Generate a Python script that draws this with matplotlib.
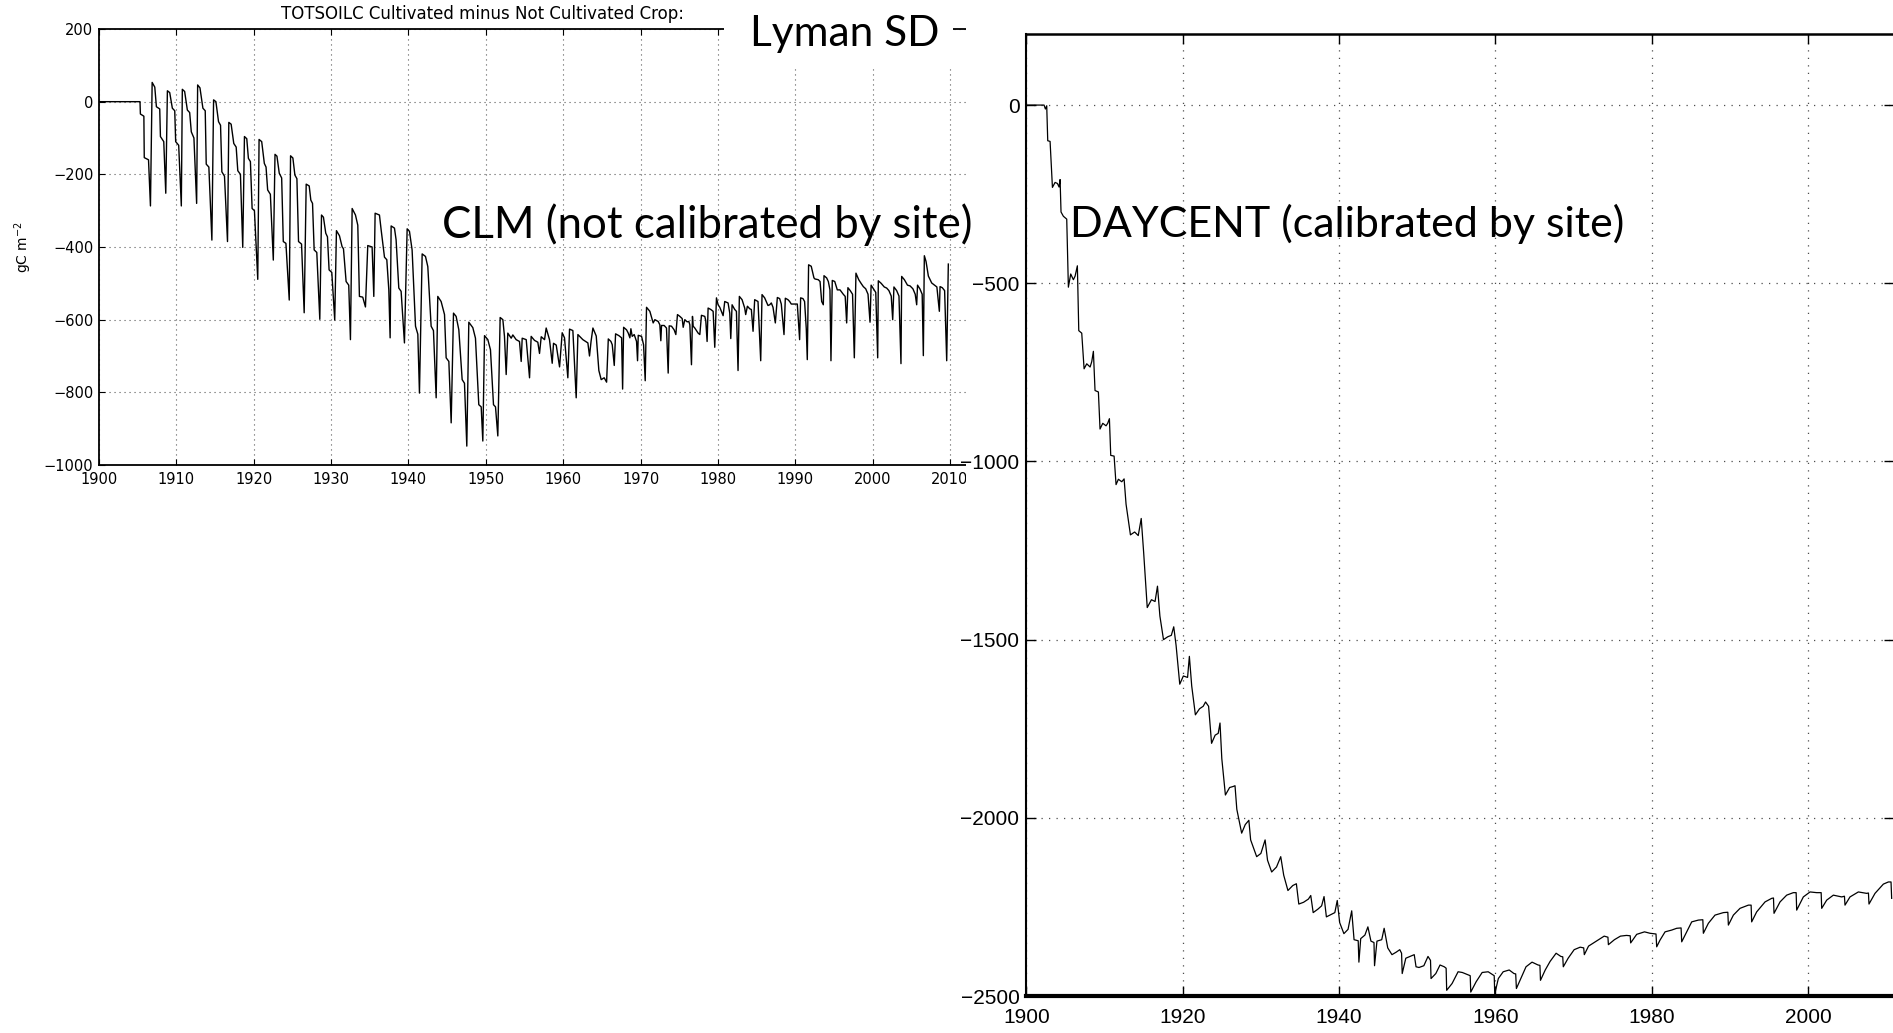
import matplotlib
matplotlib.use('Agg')
import matplotlib.pyplot as plt
from matplotlib.patches import Rectangle

W, H = 1893, 1033

# CLM, cultivated minus not cultivated (gC m-2)
clm_year = [1900.0, 1905.3, 1905.35, 1905.8, 1905.85, 1906.4, 1906.65, 1906.87,
            1907.21, 1907.42, 1907.85, 1907.94, 1908.37, 1908.63, 1908.84,
            1909.14, 1909.48, 1909.79, 1909.91, 1910.3, 1910.64, 1910.77,
            1911.07, 1911.42, 1911.72, 1911.93, 1912.27, 1912.62, 1912.75,
            1913.05, 1913.43, 1913.73, 1913.86, 1914.2, 1914.59, 1914.81,
            1915.11, 1915.45, 1915.71, 1915.88, 1916.22, 1916.61, 1916.78,
            1917.08, 1917.42, 1917.73, 1917.94, 1918.28, 1918.58, 1918.8,
            1919.1, 1919.31, 1919.57, 1919.79, 1920.09, 1920.52, 1920.69,
            1921.03, 1921.37, 1921.59, 1921.8, 1922.15, 1922.53, 1922.75,
            1923.0, 1923.3, 1923.61, 1923.82, 1924.16, 1924.59, 1924.76,
            1925.06, 1925.32, 1925.58, 1925.79, 1926.18, 1926.52, 1926.78,
            1927.17, 1927.38, 1927.6, 1927.81, 1928.15, 1928.54, 1928.76,
            1929.01, 1929.31, 1929.53, 1929.74, 1930.09, 1930.47, 1930.69,
            1931.08, 1931.42, 1931.6, 1931.94, 1932.28, 1932.5, 1932.72,
            1933.15, 1933.45, 1933.66, 1934.09, 1934.44, 1934.74, 1935.3, 1935.52, 1935.69,
            1936.25, 1936.47, 1936.9, 1937.2, 1937.46, 1937.63, 1937.76,
            1938.19, 1938.4, 1938.75, 1939.05, 1939.48, 1939.83,
            1940.13, 1940.47, 1940.91, 1941.21, 1941.42, 1941.77,
            1942.2, 1942.5, 1942.93, 1943.23, 1943.58, 1943.79,
            1944.22, 1944.66, 1944.87, 1945.22, 1945.52, 1945.82,
            1946.16, 1946.51, 1946.94, 1947.24, 1947.54, 1947.8,
            1948.32, 1948.66, 1949.09, 1949.4, 1949.61, 1949.83,
            1950.26, 1950.6, 1950.99, 1951.25, 1951.55, 1951.85,
            1952.2, 1952.41, 1952.63, 1952.84,
            1953.28, 1953.49, 1953.92, 1954.35, 1954.57, 1954.7, 1955.22, 1955.65, 1955.86,
            1956.29, 1956.72, 1956.94, 1957.16, 1957.59, 1957.8, 1958.23, 1958.58, 1958.75,
            1959.1, 1959.53, 1959.87, 1960.17, 1960.6, 1960.82, 1961.25, 1961.68, 1961.9,
            1962.54, 1963.19, 1963.4, 1963.6, 1963.84, 1964.27, 1964.61, 1964.91, 1965.3,
            1965.61, 1965.83, 1966.17, 1966.34, 1966.6, 1966.77, 1967.2, 1967.55, 1967.68,
            1967.81, 1968.19, 1968.41, 1968.62, 1968.75, 1968.92, 1969.18, 1969.48, 1969.61,
            1969.7, 1970.13, 1970.39, 1970.6, 1970.77, 1971.2, 1971.51, 1971.63, 1971.85,
            1972.28, 1972.49, 1972.62, 1972.71, 1973.05, 1973.35, 1973.57, 1973.7, 1974.0,
            1974.34, 1974.56, 1974.77, 1975.08, 1975.38, 1975.51, 1975.72, 1976.02, 1976.24,
            1976.37, 1976.58, 1976.71, 1976.8, 1977.01, 1977.44, 1977.66, 1977.87, 1978.3,
            1978.43, 1978.6, 1978.73, 1979.08, 1979.38, 1979.59, 1979.81, 1980.02, 1980.24,
            1980.45, 1980.67, 1980.88, 1981.31, 1981.53, 1981.66, 1981.83, 1982.17, 1982.39,
            1982.6, 1982.77, 1983.12, 1983.46, 1983.59, 1983.81, 1984.11, 1984.32, 1984.54,
            1984.75, 1985.18, 1985.53, 1985.7, 1986.04, 1986.47, 1986.69, 1986.9, 1987.12,
            1987.42, 1987.68, 1987.98, 1988.19, 1988.54, 1988.71, 1989.05, 1989.27, 1989.48,
            1989.91, 1990.26, 1990.56, 1990.69, 1990.99, 1991.2, 1991.42, 1991.55, 1991.72,
            1992.06, 1992.41, 1992.54, 1992.97, 1993.2, 1993.41, 1993.62, 1993.71, 1994.05,
            1994.27, 1994.48, 1994.61, 1994.78, 1995.1, 1995.43, 1995.78, 1996.2, 1996.45,
            1996.64, 1996.8, 1997.1, 1997.4, 1997.63, 1997.84, 1998.2, 1998.5, 1998.79,
            1999.1, 1999.4, 1999.66, 1999.8, 2000.1, 2000.4, 2000.65, 2000.73, 2001.1,
            2001.5, 2001.81, 2002.1, 2002.4, 2002.59, 2002.75, 2003.1, 2003.4, 2003.66,
            2003.75, 2004.1, 2004.5, 2004.83, 2005.2, 2005.5, 2005.69, 2005.8, 2006.1,
            2006.4, 2006.55, 2006.68, 2006.9, 2007.2, 2007.63, 2008.0, 2008.3, 2008.62,
            2008.71, 2009.0, 2009.3, 2009.57, 2009.78]
clm_val = [0, 0, -34, -40, -154, -160, -287, 53,
           40, -14, -20, -96, -110, -252, 30,
           25, -18, -25, -110, -120, -287, 34,
           28, -23, -30, -83, -100, -280, 46,
           38, -18, -25, -172, -180, -381, 5,
           0, -55, -65, -193, -205, -385, -57,
           -62, -115, -125, -190, -200, -401, -96,
           -102, -156, -165, -294, -300, -489, -104,
           -110, -170, -180, -243, -255, -436, -145,
           -150, -197, -210, -385, -390, -546, -149,
           -155, -202, -212, -385, -392, -581, -227,
           -232, -271, -280, -408, -415, -599, -312,
           -318, -362, -372, -463, -470, -601, -355,
           -369, -399, -405, -495, -505, -655, -294,
           -312, -340, -536, -538, -565, -396, -400, -536, -307,
           -312, -353, -428, -435, -518, -650, -342,
           -348, -380, -513, -522, -664, -350,
           -357, -408, -618, -640, -802, -419,
           -426, -454, -618, -630, -815, -536,
           -550, -586, -705, -715, -884, -582,
           -591, -628, -765, -775, -948, -607,
           -622, -651, -834, -840, -934, -644,
           -655, -683, -834, -840, -920, -594,
           -600, -646, -751, -637,
           -651, -642, -655, -660, -715, -651, -655, -760, -646,
           -657, -662, -693, -647, -655, -623, -655, -720, -665,
           -670, -730, -636, -650, -760, -626, -630, -815, -641,
           -655, -664, -700, -660, -623, -645, -740, -765, -760,
           -772, -653, -660, -669, -726, -639, -644, -650, -791,
           -621, -628, -637, -650, -625, -646, -641, -660, -713,
           -643, -646, -669, -768, -566, -577, -600, -609, -600,
           -605, -614, -658, -616, -616, -623, -747, -617, -618,
           -628, -641, -586, -591, -597, -621, -600, -606, -605,
           -614, -724, -591, -618, -623, -637, -641, -588, -591,
           -603, -660, -568, -572, -577, -676, -540, -559, -566,
           -577, -589, -550, -554, -582, -652, -559, -572, -577,
           -740, -536, -545, -568, -586, -563, -570, -572, -632,
           -545, -550, -713, -531, -540, -561, -559, -554, -566,
           -609, -539, -542, -557, -641, -541, -545, -550, -557,
           -557, -557, -655, -540, -542, -550, -625, -710, -449,
           -453, -485, -488, -490, -495, -550, -559, -479, -485,
           -495, -518, -713, -492, -495, -518, -518, -530, -536,
           -609, -512, -520, -530, -705, -472, -490, -500, -509,
           -515, -530, -607, -505, -515, -525, -705, -493, -500,
           -510, -513, -520, -535, -600, -510, -520, -535, -721,
           -481, -490, -505, -507, -515, -530, -559, -505, -515,
           -530, -699, -424, -440, -480, -499, -505, -510, -577,
           -509, -512, -520, -713, -447]

# DAYCENT, calibrated by site (gC m-2)
dc_year = [1900.0, 1902.26, 1902.43, 1902.6, 1902.73, 1903.03, 1903.33, 1903.67, 1903.97,
           1904.18, 1904.31, 1904.43, 1904.73, 1905.16, 1905.37, 1905.67, 1906.01, 1906.23,
           1906.52, 1906.7, 1907.08, 1907.38, 1907.72, 1908.15, 1908.36, 1908.57, 1908.78,
           1909.21, 1909.42, 1909.77, 1910.19, 1910.4, 1910.62, 1910.79, 1911.22, 1911.47,
           1911.77, 1912.2, 1912.5, 1912.75, 1913.31, 1913.85, 1914.31, 1914.69, 1915.0,
           1915.46, 1916.0, 1916.46, 1916.77, 1917.08, 1917.54, 1918.08, 1918.54, 1918.85,
           1919.15, 1919.62, 1920.08, 1920.62, 1920.85, 1921.15, 1921.62, 1922.15, 1922.62,
           1922.92, 1923.31, 1923.69, 1924.15, 1924.54, 1924.77, 1925.0, 1925.46, 1926.0,
           1926.46, 1926.69, 1926.92, 1927.54, 1928.0, 1928.46, 1928.69, 1929.46, 1930.0,
           1930.54, 1930.85, 1931.38, 1932.0, 1932.54, 1932.92, 1933.46, 1934.08, 1934.54,
           1934.85, 1935.46, 1936.08, 1936.38, 1936.69, 1937.31, 1937.77, 1938.08, 1938.38,
           1938.92, 1939.46, 1939.77, 1940.08, 1940.62, 1941.15, 1941.62, 1941.92, 1942.45,
           1942.54, 1942.77, 1943.31, 1943.69, 1944.08, 1944.47, 1944.54, 1944.85, 1945.46,
           1945.77, 1946.23, 1946.77, 1947.31, 1947.77, 1948.0, 1948.08, 1948.54, 1949.08,
           1949.62, 1949.85, 1950.23, 1950.85, 1951.38, 1951.7, 1951.77, 1952.38, 1952.92,
           1953.46, 1953.7, 1953.77, 1954.46, 1955.23, 1955.77, 1956.54, 1956.78, 1956.85,
           1957.54, 1958.31, 1959.08, 1959.69, 1959.85, 1959.92, 1960.38, 1961.0, 1961.77,
           1962.38, 1962.6, 1962.69, 1963.31, 1963.92, 1964.69, 1965.46, 1965.7, 1965.77,
           1966.38, 1967.0, 1967.77, 1968.38, 1968.62, 1968.69, 1969.31, 1970.08, 1970.85,
           1971.3, 1971.38, 1971.92, 1972.92, 1973.92, 1974.4, 1974.46, 1975.23, 1976.0,
           1976.77, 1977.25, 1977.31, 1978.08, 1979.08, 1979.79, 1980.55, 1980.64, 1981.07,
           1981.71, 1982.56, 1983.2, 1983.76, 1983.84, 1984.48, 1985.12, 1985.97, 1986.54,
           1986.61, 1987.25, 1988.1, 1989.17, 1989.74, 1989.81, 1990.45, 1991.3, 1992.37,
           1992.72, 1992.79, 1993.43, 1994.5, 1995.35, 1995.58, 1995.65, 1996.42, 1997.27,
           1998.12, 1998.48, 1998.55, 1999.4, 2000.26, 2001.11, 2001.68, 2001.75, 2002.39,
           2003.24, 2004.31, 2004.66, 2004.73, 2005.37, 2006.44, 2007.5, 2007.73, 2007.8,
           2008.57, 2009.64, 2010.28, 2010.62, 2010.7]
dc_val = [0, 0, -11, -2, -100, -102, -231, -217, -220,
          -230, -209, -300, -312, -320, -511, -474, -490, -480,
          -451, -633, -640, -740, -726, -735, -720, -691, -801,
          -805, -909, -893, -900, -893, -880, -983, -985, -1065,
          -1050, -1057, -1049, -1120, -1206, -1198, -1208, -1160, -1255,
          -1410, -1388, -1393, -1350, -1434, -1500, -1492, -1488, -1464,
          -1516, -1625, -1602, -1606, -1547, -1630, -1711, -1694, -1687,
          -1675, -1687, -1791, -1768, -1763, -1734, -1834, -1936, -1915,
          -1912, -1910, -1976, -2043, -2019, -2007, -2062, -2109, -2100,
          -2062, -2119, -2152, -2138, -2109, -2161, -2204, -2190, -2185,
          -2242, -2237, -2228, -2218, -2266, -2256, -2247, -2221, -2278,
          -2272, -2266, -2232, -2294, -2325, -2313, -2261, -2342, -2345,
          -2405, -2339, -2329, -2306, -2346, -2350, -2415, -2346, -2342,
          -2310, -2365, -2384, -2377, -2370, -2380, -2437, -2394, -2389,
          -2384, -2418, -2420, -2415, -2389, -2400, -2451, -2437, -2413,
          -2418, -2422, -2484, -2465, -2432, -2434, -2441, -2443, -2489,
          -2460, -2434, -2432, -2441, -2443, -2494, -2451, -2432, -2427,
          -2437, -2438, -2479, -2448, -2418, -2405, -2413, -2414, -2456,
          -2427, -2403, -2380, -2389, -2390, -2418, -2394, -2370, -2363,
          -2365, -2384, -2360, -2346, -2332, -2335, -2356, -2342, -2332,
          -2330, -2331, -2351, -2327, -2320, -2324, -2326, -2362, -2343,
          -2320, -2315, -2310, -2309, -2348, -2320, -2292, -2287, -2286,
          -2324, -2296, -2273, -2266, -2265, -2301, -2273, -2254, -2245,
          -2245, -2292, -2264, -2236, -2226, -2225, -2268, -2236, -2217,
          -2210, -2210, -2259, -2222, -2208, -2210, -2210, -2254, -2231,
          -2217, -2222, -2220, -2245, -2222, -2208, -2212, -2211, -2242,
          -2212, -2186, -2180, -2180, -2226]

clm_xticks = list(range(1900, 2011, 10))
clm_yticks = list(range(-1000, 201, 200))
dc_xticks = list(range(1900, 2001, 20))
dc_yticks = list(range(-2500, 1, 500))

title_txt = 'TOTSOILC Cultivated minus Not Cultivated Crop:'
site_txt = 'Lyman SD'
clm_txt = 'CLM (not calibrated by site)'
dc_txt = 'DAYCENT (calibrated by site)'

narrow = ['Liberation Sans', 'DejaVu Sans']
slide = ['Lato', 'DejaVu Sans']


def px_rect(x0, y0, x1, y1):
    # pixel box (top-left origin) -> figure fraction [l, b, w, h]
    return [x0 / W, 1 - y1 / H, (x1 - x0) / W, (y1 - y0) / H]


def minus(v):
    return str(v).replace('-', '\u2212')


fig = plt.figure(figsize=(W / 100, H / 100), dpi=100)
fig.patch.set_facecolor('white')

# left panel (CLM)
ax1 = fig.add_axes(px_rect(99, 29, 965.5, 465), zorder=0)
ax1.plot(clm_year, clm_val, color='black', lw=1.0)
ax1.set_xlim(1900, 2012)
ax1.set_ylim(-1000, 200)
ax1.set_xticks(clm_xticks, labels=[str(t) for t in clm_xticks], fontsize=10.5)
ax1.set_yticks(clm_yticks, labels=[minus(t) for t in clm_yticks], fontsize=10.5)
ax1.grid(True, linestyle=(0, (1, 3.5)), color='0.35', lw=0.8)
ax1.tick_params(direction='in', top=True, right=False, length=4, width=0.8)
ax1.tick_params(axis='x', pad=5)
ax1.tick_params(axis='y', pad=4)
for s in ax1.spines.values():
    s.set_linewidth(1.3)
ax1.spines['right'].set_visible(False)
ax1.set_ylabel('gC m$^{-2}$', fontsize=10)
ax1.yaxis.set_label_coords(-0.075, 0.5)

fig.text(281 / W, 1 - 19 / H, title_txt, fontsize=12, ha='left', va='baseline')

# the right panel sits on its own white sheet over the left one
fig.add_artist(Rectangle((966 / W, 0), 1 - 966 / W, 1, transform=fig.transFigure,
                         facecolor='white', edgecolor='none', zorder=1))

# right panel (DAYCENT)
ax2 = fig.add_axes(px_rect(1026.4, 33.8, 1894, 996), zorder=2)
ax2.plot(dc_year, dc_val, color='black', lw=0.9)
ax2.set_xlim(1900, 2011)
ax2.set_ylim(-2500, 200)
ax2.set_xticks(dc_xticks, labels=[str(t) for t in dc_xticks], fontsize=15, fontfamily=narrow)
ax2.set_yticks(dc_yticks, labels=[minus(t) for t in dc_yticks], fontsize=15, fontfamily=narrow)
ax2.grid(True, linestyle=(0, (1, 5)), color='0.3', lw=0.9)
ax2.tick_params(direction='in', top=True, right=True, length=7, width=1.0)
ax2.tick_params(axis='x', pad=8.5)
ax2.tick_params(axis='y', pad=5)
ax2.spines['bottom'].set_linewidth(3.0)
ax2.spines['top'].set_linewidth(1.8)
ax2.spines['left'].set_linewidth(1.5)

# slide labels; "Lyman SD" sits on a white box over the title
fig.add_artist(Rectangle((724 / W, 1 - 66 / H), (953 - 724) / W, 66 / H,
                         transform=fig.transFigure, facecolor='white',
                         edgecolor='none', zorder=2.5))
fig.text(750 / W, 1 - 46 / H, site_txt, fontsize=30.5, family=slide, ha='left', va='baseline', zorder=3)
fig.text(442 / W, 1 - 238 / H, clm_txt, fontsize=31.5, family=slide, ha='left', va='baseline', zorder=3)
fig.text(1070 / W, 1 - 237 / H, dc_txt, fontsize=31, family=slide, ha='left', va='baseline', zorder=3)

fig.savefig('out.png', dpi=100)
